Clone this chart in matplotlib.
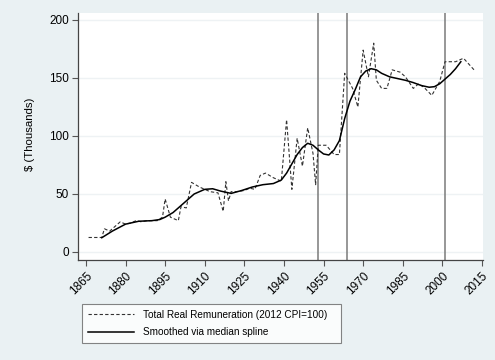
import matplotlib
matplotlib.use("Agg")
import matplotlib.pyplot as plt

# Total real remuneration (thousands of 2012 $)
years = [1866, 1871, 1872, 1874, 1876, 1878, 1880, 1882, 1884, 1886, 1888, 1890,
         1892, 1894, 1895, 1897, 1900, 1901, 1903, 1905, 1908, 1910, 1912, 1915,
         1917, 1918, 1919, 1920, 1922, 1925, 1927, 1929, 1931, 1933, 1936, 1939,
         1941, 1943, 1945, 1947, 1949, 1951, 1952, 1953, 1956, 1959, 1961, 1963,
         1966, 1968, 1970, 1972, 1974, 1975, 1977, 1979, 1981, 1984, 1986, 1989,
         1991, 1993, 1996, 1999, 2001, 2005, 2008, 2012]
remun = [12.5, 12.5, 20, 18, 22, 26, 24, 25, 27, 26, 27, 27,
         27, 30, 45.7, 30, 27, 39, 38, 60, 56, 54, 52, 51,
         35, 60.6, 44, 52, 52, 53, 55, 54, 66, 68, 64, 61,
         114, 54, 98, 74, 107, 85, 58, 92, 92, 84, 84, 154,
         141, 125, 174, 151, 180, 148, 141, 141, 157, 155, 151, 141,
         145, 142, 135, 147, 164, 164, 167, 157]

# Smoothed via median spline
sm_years = [1871, 1875, 1880, 1885, 1890, 1893, 1895, 1898, 1900, 1903, 1906,
            1910, 1913, 1916, 1920, 1924, 1928, 1932, 1936, 1939, 1941, 1943,
            1945, 1947, 1949, 1951, 1953, 1955, 1957, 1959, 1961, 1963, 1965,
            1967, 1969, 1971, 1973, 1975, 1977, 1980, 1983, 1986, 1989, 1992,
            1995, 1997, 1999, 2001, 2003, 2005, 2007]
smooth = [12.3, 18, 24, 26.5, 27, 28, 30, 34, 38, 44, 50,
          54, 54.5, 52.5, 50.5, 53, 56, 58, 59, 62, 68, 76,
          84, 90, 93.7, 92, 88, 84.5, 83.6, 88, 96, 115, 130,
          140, 151, 156, 158, 157, 154, 151, 149.5, 148, 146, 143.5,
          142, 142.5, 145, 149, 153, 158, 164]

vlines = [1953, 1964, 2001]
xticks = list(range(1865, 2016, 15))
yticks = [0, 50, 100, 150, 200]

plt.rcParams['font.family'] = ['Liberation Sans', 'DejaVu Sans']

bg = '#eaf1f3'
fig = plt.figure(figsize=(4.95, 3.6), dpi=100, facecolor=bg)
ax = fig.add_axes([0.1576, 0.2778, 0.8182, 0.6861])
ax.set_facecolor('white')

for v in yticks:
    ax.axhline(v, color='#eef2f4', lw=1.0, zorder=0)
for v in vlines:
    ax.axvline(v, color='#7a7a7a', lw=1.1, zorder=1)

l1, = ax.plot(years, remun, color='#333333', lw=0.8, ls=(0, (3, 2)), zorder=2)
l2, = ax.plot(sm_years, smooth, color='black', lw=1.1, zorder=3)

ax.set_xlim(1862, 2015.4)
ax.set_ylim(-6.9, 206)
ax.set_xticks(xticks)
ax.set_yticks(yticks)
ax.set_xticklabels([str(t) for t in xticks], rotation=45, ha='right',
                   rotation_mode='anchor', fontsize=8.5)
ax.set_yticklabels([str(t) for t in yticks], fontsize=8.5)
ax.tick_params(direction='out', length=4.5, width=0.8, color='#555555', pad=2)
ax.tick_params(axis='x', pad=3)

for s in ['top', 'right']:
    ax.spines[s].set_visible(False)
for s in ['left', 'bottom']:
    ax.spines[s].set_color('#444444')
    ax.spines[s].set_linewidth(0.9)

fig.text(0.06, 0.628, '$ (Thousands)', rotation=90, fontsize=8.2,
         ha='center', va='center')

leg = fig.legend([l1, l2], ['Total Real Remuneration (2012 CPI=100)',
                            'Smoothed via median spline'],
                 loc='lower left', bbox_to_anchor=(0.1657, 0.0472, 0.523, 0.114),
                 mode='expand', borderaxespad=0, fontsize=7.2, fancybox=False,
                 handlelength=4.6, handletextpad=0.9, labelspacing=0.75,
                 borderpad=0.6)
leg.get_frame().set_edgecolor('#666666')
leg.get_frame().set_linewidth(0.8)

fig.savefig('out.png', dpi=100, facecolor=bg)
